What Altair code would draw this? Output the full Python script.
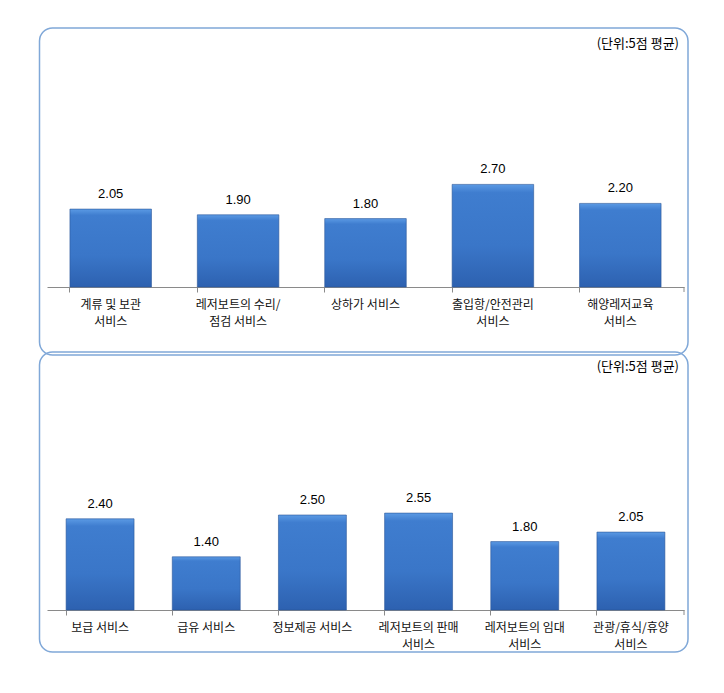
import altair as alt
import pandas as pd

cats1 = ["계류 및 보관|서비스", "레저보트의 수리/|점검 서비스", "상하가 서비스", "출입항/안전관리|서비스", "해양레저교육|서비스"]
vals1 = [2.05, 1.90, 1.80, 2.70, 2.20]
cats2 = ["보급 서비스", "급유 서비스", "정보제공 서비스", "레저보트의 판매|서비스", "레저보트의 임대|서비스", "관광/휴식/휴양|서비스"]
vals2 = [2.40, 1.40, 2.50, 2.55, 1.80, 2.05]
unit_text = "(단위:5점 평균)"

W, H = 637, 190
KFONT = "Noto Sans CJK KR"

grad = alt.Gradient(
    gradient="linear",
    stops=[alt.GradientStop(color="#5b9ae4", offset=0),
           alt.GradientStop(color="#3f7dcf", offset=0.08),
           alt.GradientStop(color="#3a76c8", offset=0.6),
           alt.GradientStop(color="#2d61b0", offset=1)],
    x1=0, x2=0, y1=0, y2=1,
)


def panel(cats, vals, top_off, bottom_off):
    df = pd.DataFrame({"cat": cats, "val": vals})
    x = alt.X("cat:N", sort=cats, title=None,
              scale=alt.Scale(paddingInner=0.36, paddingOuter=0.18),
              axis=alt.Axis(labelAngle=0, labelExpr="split(datum.label, '|')",
                            labelFont=KFONT, labelFontSize=12, labelColor="#111111",
                            labelPadding=7, labelLineHeight=17, labelLimit=200,
                            bandPosition=0, tickSize=5, tickColor="#8a8a8a",
                            domainColor="#8a8a8a", domainWidth=1))
    y = alt.Y("val:Q", scale=alt.Scale(domain=[0, 5]), axis=None)
    base = alt.Chart(df)
    bars = base.mark_bar(fill=grad, stroke="#2a5597", strokeWidth=0.6).encode(x=x, y=y)
    labels = base.mark_text(dy=-8, baseline="bottom", font="Liberation Sans",
                            fontSize=13, color="#000000").encode(
        x=alt.X("cat:N", sort=cats), y="val:Q", text=alt.Text("val:Q", format=".2f"))
    one = alt.Chart(pd.DataFrame({"a": [0]}))
    border = one.mark_rect(cornerRadius=13, fillOpacity=0, fill="white",
                           stroke="#80a8d8", strokeWidth=1.5).encode(
        x=alt.value(-7.5), x2=alt.value(W + 4), y=alt.value(top_off), y2=alt.value(bottom_off))
    endtick = one.mark_rule(color="#8a8a8a").encode(
        x=alt.value(W), y=alt.value(H), y2=alt.value(H + 5))
    unit = one.mark_text(align="right", baseline="middle", font=KFONT, fontSize=13,
                         color="#000000").encode(
        x=alt.value(W - 5), y=alt.value(-53), text=alt.value(unit_text))
    return alt.layer(border, bars, labels, endtick, unit).properties(width=W, height=H)


top = panel(cats1, vals1, -69, 258)
bottom = panel(cats2, vals2, -68, 232)

chart = alt.vconcat(top, bottom, spacing=-5).properties(
    padding={"left": 38, "top": 27, "right": 5, "bottom": 5},
    background="white",
).configure_view(strokeWidth=0, stroke="transparent")

chart.save("out.html", embed_options={"renderer": "svg", "actions": False})
